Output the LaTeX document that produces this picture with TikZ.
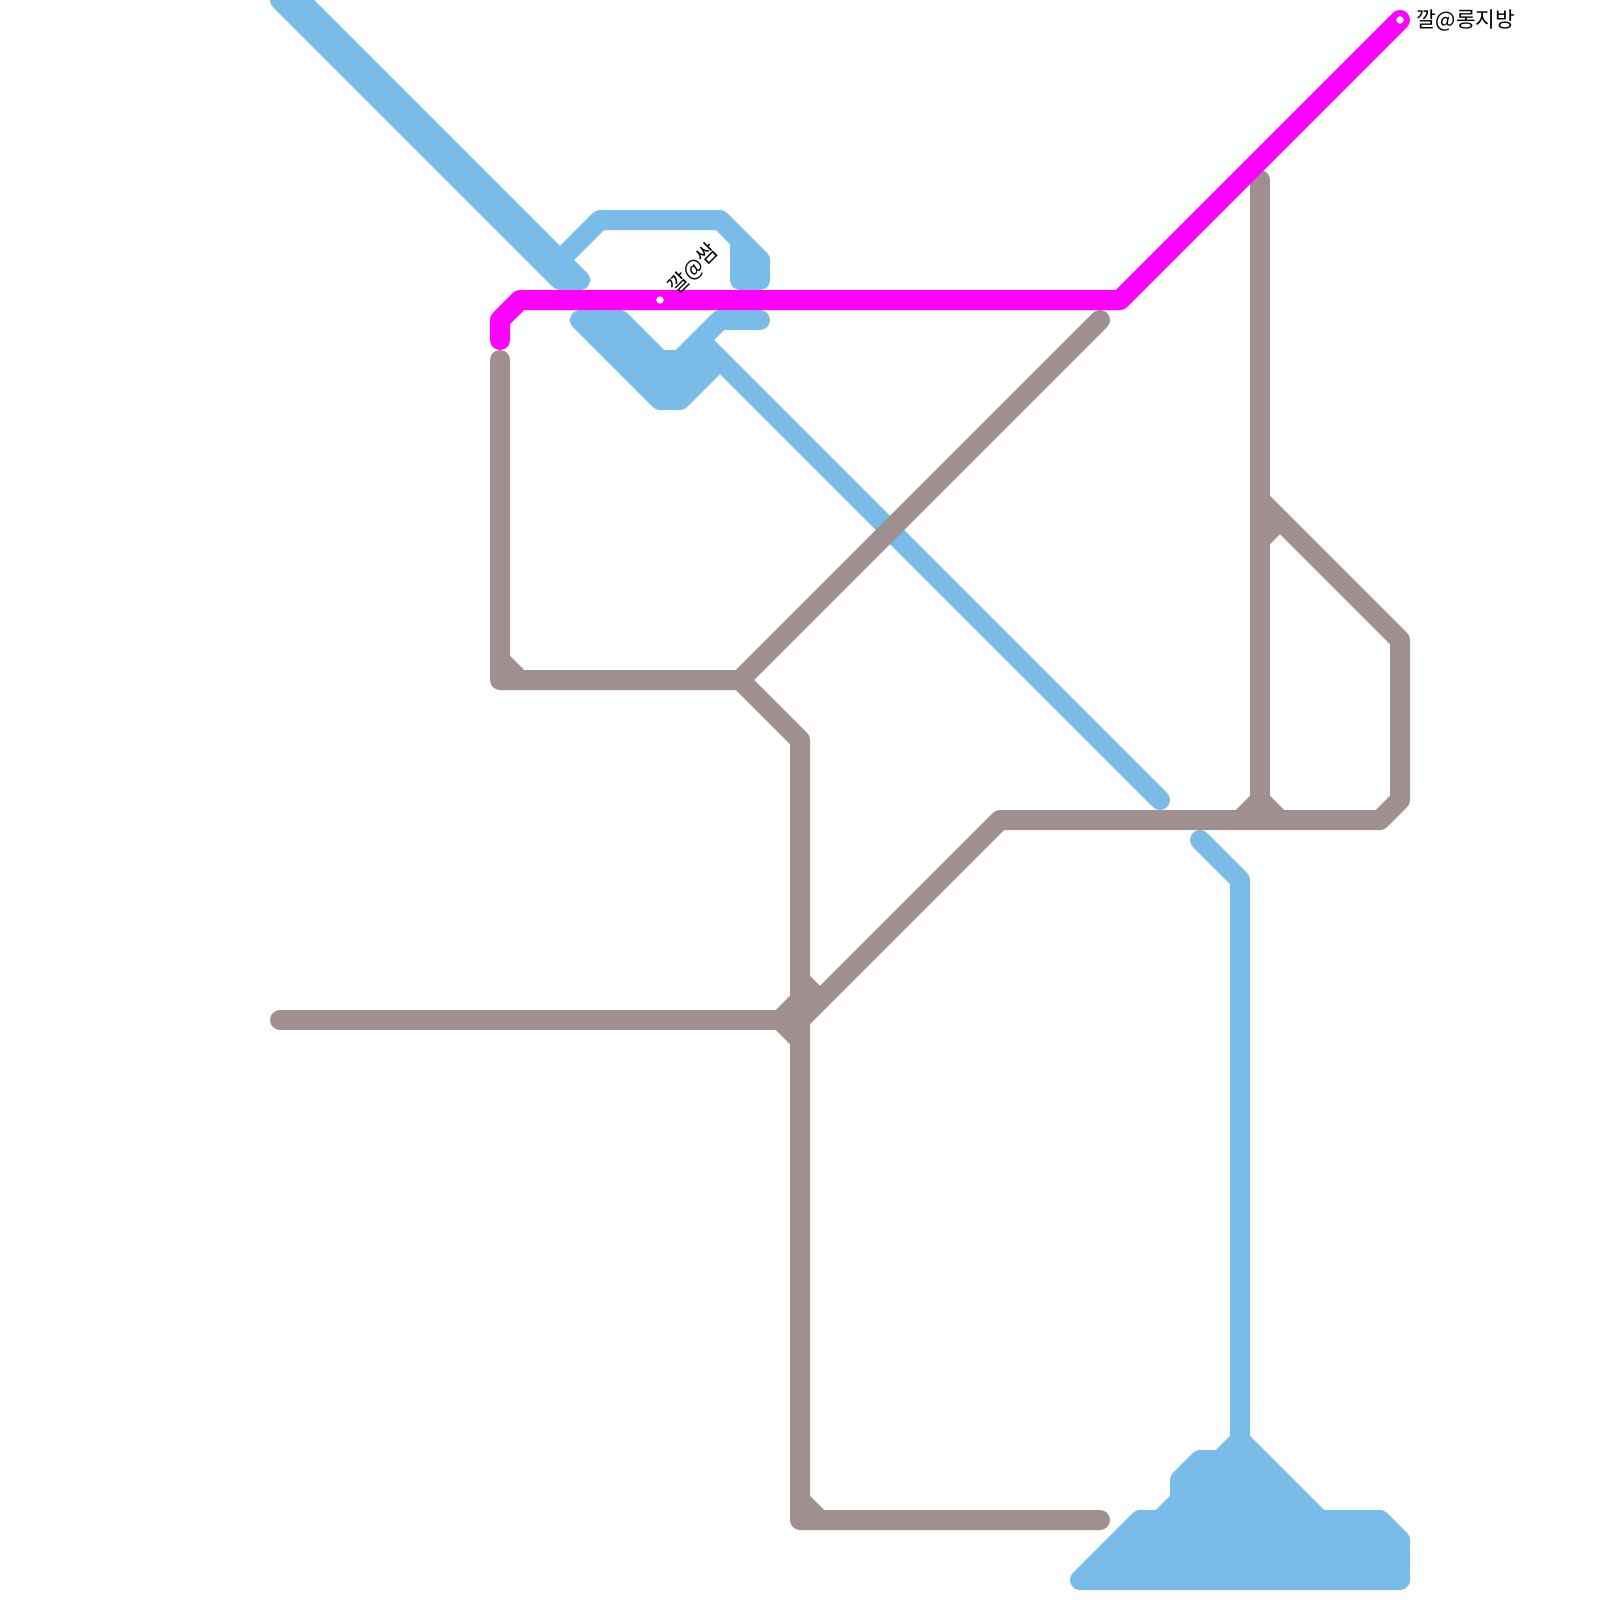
\documentclass[tikz,border=0pt]{standalone}
\usepackage{fontspec}
\newfontfamily\krfont{Noto Sans CJK KR}
\definecolor{lineblue}{HTML}{79BCE9}
\definecolor{linegrey}{HTML}{9F8F8F}
\definecolor{linemag}{HTML}{FF00FF}
\tikzset{
  metro/.style={line width=20pt,line cap=round,line join=round},
  blueline/.style={metro,draw=lineblue},
  blueblob/.style={metro,draw=lineblue,fill=lineblue},
  greyline/.style={metro,draw=linegrey},
  magline/.style={metro,draw=linemag},
  dot/.style={circle,fill=white,draw=none,minimum size=7.5pt,inner sep=0pt},
  lbl/.style={font=\krfont\fontsize{21.4pt}{21.4pt}\selectfont,text=black,inner sep=0pt}
}
\begin{document}
\begin{tikzpicture}[x=1pt,y=-1pt]
\useasboundingbox (0,0) rectangle (1600,1600);
\begin{scope}
\clip (0,0) rectangle (1600,1600);
% blue
\draw[blueline] (280,0) -- (560,280) -- (580,280) -- (300,0);
\draw[blueline] (560,260) -- (600,220) -- (720,220) -- (760,260) -- (760,280) -- (740,280) -- (740,240);
\draw[blueblob] (580,320) -- (620,320) -- (660,360) -- (680,360) -- (700,340) -- (720,360) -- (680,400) -- (660,400) -- cycle;
\draw[blueline] (700,340) -- (720,320) -- (760,320);
\draw[blueline] (720,360) -- (1160,800);
\draw[blueline] (1200,840) -- (1240,880) -- (1240,1440);
\draw[blueblob] (1240,1440) -- (1220,1460) -- (1200,1460) -- (1180,1480) -- (1180,1500) -- (1160,1520) -- (1140,1520) -- (1080,1580) -- (1400,1580) -- (1400,1540) -- (1380,1520) -- (1320,1520) -- cycle;
% grey
\draw[greyline] (500,360) -- (500,680) -- (740,680) -- (800,740) -- (800,1520) -- (1100,1520);
\draw[greyline] (740,680) -- (1100,320);
\draw[greyline] (280,1020) -- (780,1020);
\draw[greyline] (800,1020) -- (1000,820) -- (1380,820) -- (1400,800) -- (1400,640) -- (1260,500);
\draw[greyline] (1260,180) -- (1260,820);
\draw[greyline] (780,1020) -- (800,1000);
\draw[greyline] (780,1020) -- (800,1040);
\draw[greyline] (800,980) -- (820,1000);
\draw[greyline] (1260,540) -- (1280,520);
\draw[greyline] (1240,820) -- (1260,800) -- (1280,820);
\draw[greyline] (500,660) -- (520,680);
\draw[greyline] (800,1500) -- (820,1520);
% magenta
\draw[magline] (500,340) -- (500,320) -- (520,300) -- (1120,300) -- (1400,20);
\end{scope}
\node[dot] (st1) at (660,300) {};
\node[dot] (st2) at (1400,20) {};
\node[lbl,anchor=west] (lab2) at (1416,21) {깔@롱지방};
\node[lbl,anchor=south west,rotate=45] (lab1) at (680,298) {깔@쌈};
\end{tikzpicture}
\end{document}
